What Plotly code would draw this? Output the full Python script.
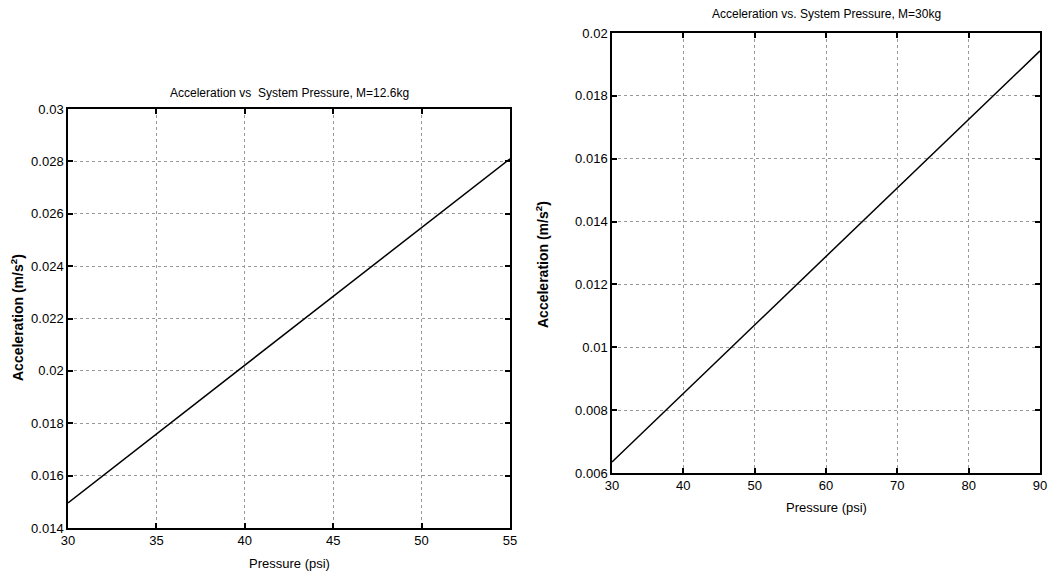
import plotly.graph_objects as go

# Left panel data (M = 12.6 kg)
p_left = [30, 35, 40, 45, 50, 55]
a_left = [0.01496, 0.01759, 0.02022, 0.02285, 0.02548, 0.0281]
xt_left = [30, 35, 40, 45, 50, 55]
yt_left = [0.014, 0.016, 0.018, 0.02, 0.022, 0.024, 0.026, 0.028, 0.03]
yt_left_txt = ["0.014", "0.016", "0.018", "0.02", "0.022", "0.024", "0.026", "0.028", "0.03"]

# Right panel data (M = 30 kg)
p_right = [30, 40, 50, 60, 70, 80, 90]
a_right = [0.00635, 0.00853, 0.01071, 0.01289, 0.01507, 0.01725, 0.01943]
xt_right = [30, 40, 50, 60, 70, 80, 90]
yt_right = [0.006, 0.008, 0.01, 0.012, 0.014, 0.016, 0.018, 0.02]
yt_right_txt = ["0.006", "0.008", "0.01", "0.012", "0.014", "0.016", "0.018", "0.02"]

title_left = "Acceleration vs  System Pressure, M=12.6kg"
title_right = "Acceleration vs. System Pressure, M=30kg"
xlab = "Pressure (psi)"
ylab = "Acceleration (m/s<sup>2</sup>)"

W, H = 1052, 580
FONT = "Liberation Sans Narrow, Liberation Sans, Arial, sans-serif"

def px(x):
    return x / W

def py(y):
    return 1 - y / H

fig = go.Figure()
fig.add_trace(go.Scatter(x=p_left, y=a_left, mode="lines",
                         line=dict(color="black", width=1.5),
                         xaxis="x", yaxis="y", showlegend=False))
fig.add_trace(go.Scatter(x=p_right, y=a_right, mode="lines",
                         line=dict(color="black", width=1.5),
                         xaxis="x2", yaxis="y2", showlegend=False))

axis_common = dict(
    showline=True, linecolor="black", linewidth=1.5, mirror="ticks",
    ticks="inside", ticklen=5, tickcolor="black", tickwidth=1.5,
    showgrid=True, gridcolor="#999999", gridwidth=1, griddash="dot",
    zeroline=False, automargin=False,
    tickfont=dict(family=FONT, size=13, color="black"),
)

fig.update_layout(
    width=W, height=H,
    margin=dict(l=0, r=0, t=0, b=0, autoexpand=False),
    paper_bgcolor="white", plot_bgcolor="white",
    font=dict(family=FONT, color="black"),
    xaxis=dict(domain=[px(68), px(510)], range=[30, 55], tickvals=xt_left,
               anchor="y", **axis_common),
    yaxis=dict(domain=[py(528), py(109)], range=[0.014, 0.03], tickvals=yt_left,
               ticktext=yt_left_txt, anchor="x", **axis_common),
    xaxis2=dict(domain=[px(612), px(1040)], range=[30, 90], tickvals=xt_right,
                anchor="y2", **axis_common),
    yaxis2=dict(domain=[py(473), py(33)], range=[0.006, 0.02], tickvals=yt_right,
                ticktext=yt_right_txt, anchor="x2", **axis_common),
)

def note(text, x, y, size, angle=0):
    return dict(text=text, x=px(x), y=py(y), xref="paper", yref="paper",
                xanchor="center", yanchor="middle", showarrow=False,
                textangle=angle, font=dict(family=FONT, size=size, color="black"))

ann = [
    note(title_left, 289, 93, 12),
    note(title_right, 826, 14, 12),
    note(xlab, 289, 563, 13),
    note(xlab, 826, 507, 13),
    note("<b>" + ylab + "</b>", 17, 318, 14, -90),
    note("<b>" + ylab + "</b>", 542, 265, 14, -90),
]
fig.update_layout(annotations=ann)

fig.write_html("out.html",
               config={"displayModeBar": False},
               post_script="document.body.style.margin='0';document.body.style.overflow='hidden';")
